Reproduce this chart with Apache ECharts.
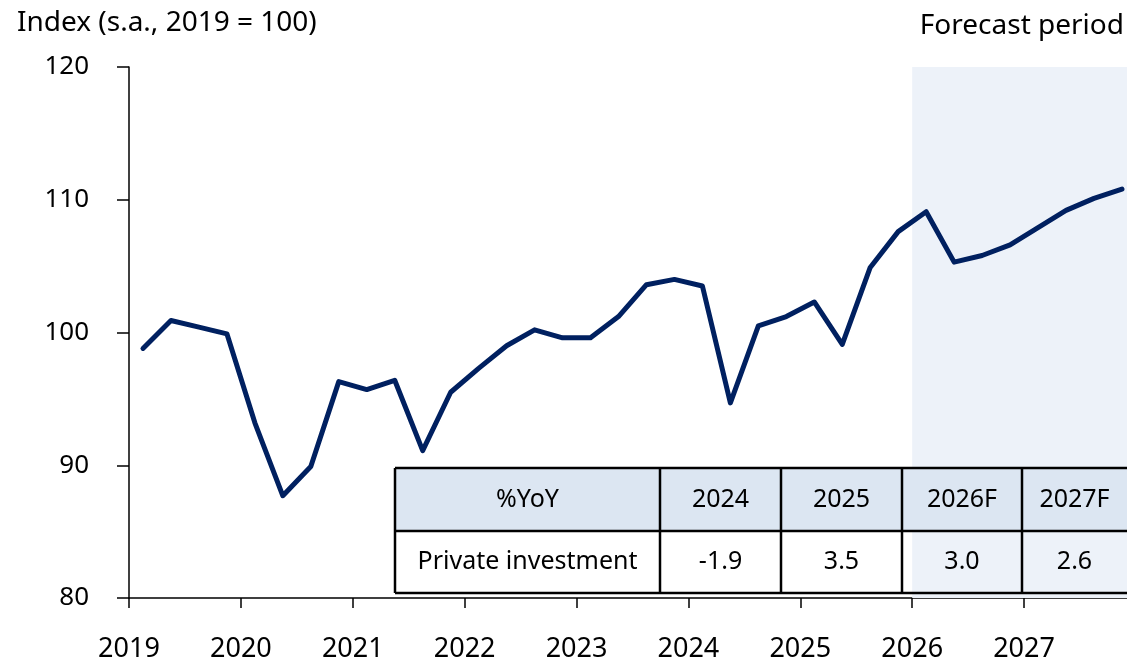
<!DOCTYPE html>
<html>
<head>
<meta charset="utf-8">
<script src="https://cdn.jsdelivr.net/npm/echarts@6/dist/echarts.min.js"></script>
<style>
  html, body { margin: 0; padding: 0; background: #fff; }
  #chart { width: 1127px; height: 663px; }
</style>
</head>
<body>
<div id="chart"></div>
<script>
// quarterly private investment index, 2019Q1 - 2027Q4
const years = [2019, 2020, 2021, 2022, 2023, 2024, 2025, 2026, 2027];
const values = [
  98.8, 100.9, 100.4, 99.9,
  93.2, 87.7, 89.9, 96.3,
  95.7, 96.4, 91.1, 95.5,
  97.3, 99.0, 100.2, 99.6,
  99.6, 101.2, 103.6, 104.0,
  103.5, 94.7, 100.5, 101.2,
  102.3, 99.1, 104.9, 107.6,
  109.1, 105.3, 105.8, 106.6,
  107.9, 109.2, 110.1, 110.8
];
const forecastStart = 2026;

// table
const tableHeader = ['%YoY', '2024', '2025', '2026F', '2027F'];
const tableRow = ['Private investment', '-1.9', '3.5', '3.0', '2.6'];

const FONT = 'Noto Sans';
const X_MAX = 2027.92;

// x position of each quarter = middle of the quarter
const lineData = values.map((v, i) => {
  const y = years[0] + Math.floor(i / 4);
  const q = i % 4;
  return [y + (q + 0.5) / 4, v];
});

const chart = echarts.init(document.getElementById('chart'));

// table graphic
const colX = [395, 660, 781, 902, 1022, 1127];
const rowY = [468, 531, 593];
const tableEls = [];
tableEls.push({
  type: 'rect', shape: { x: colX[0], y: rowY[0], width: colX[5] - colX[0], height: rowY[1] - rowY[0] },
  style: { fill: '#dce6f2' }, z: 10
});
for (let c = 0; c < 5; c++) {
  const cx = (colX[c] + colX[c + 1]) / 2;
  tableEls.push({
    type: 'text', z: 12,
    style: { text: tableHeader[c], x: cx, y: (rowY[0] + rowY[1]) / 2,
      align: 'center', verticalAlign: 'middle', font: '25px "' + FONT + '"', fill: '#000' }
  });
  tableEls.push({
    type: 'text', z: 12,
    style: { text: tableRow[c], x: cx, y: (rowY[1] + rowY[2]) / 2,
      align: 'center', verticalAlign: 'middle', font: '25px "' + FONT + '"', fill: '#000' }
  });
}
rowY.forEach(y => {
  tableEls.push({ type: 'line', z: 11, shape: { x1: colX[0], y1: y, x2: 1127, y2: y }, style: { stroke: '#000', lineWidth: 2.5 } });
});
colX.slice(0, 5).forEach(x => {
  tableEls.push({ type: 'line', z: 11, shape: { x1: x, y1: rowY[0], x2: x, y2: rowY[2] }, style: { stroke: '#000', lineWidth: 2.5 } });
});

chart.setOption({
  animation: false,
  textStyle: { fontFamily: FONT },
  title: {
    text: 'Index (s.a., 2019 = 100)',
    left: 12, top: 4,
    textStyle: { fontSize: 28, fontWeight: 'normal', color: '#000', fontFamily: FONT }
  },
  grid: { left: 129, right: 0, top: 67, bottom: 62, containLabel: false },
  xAxis: {
    type: 'value',
    min: 2019, max: X_MAX, interval: 1,
    axisLine: { show: true, lineStyle: { color: '#000', width: 1.5 } },
    axisTick: { show: true, length: 10, customValues: years, lineStyle: { color: '#000', width: 1.5 } },
    splitLine: { show: false },
    axisLabel: {
      margin: 38, fontSize: 27, color: '#000', fontFamily: FONT,
      customValues: years,
      formatter: v => String(v)
    }
  },
  yAxis: {
    type: 'value',
    min: 80, max: 120, interval: 10,
    axisLine: { show: true, lineStyle: { color: '#000', width: 1.5 } },
    axisTick: { show: true, length: 12, lineStyle: { color: '#000', width: 1.5 } },
    splitLine: { show: false },
    axisLabel: { margin: 40, fontSize: 26, color: '#000', fontFamily: FONT }
  },
  graphic: [
    {
      type: 'text', right: 3, top: 12, z: 5,
      style: { text: 'Forecast period', font: '28px "' + FONT + '"', fill: '#000' }
    },
    { type: 'group', children: tableEls }
  ],
  series: [{
    type: 'line',
    data: lineData,
    showSymbol: false,
    lineStyle: { color: '#002060', width: 5, cap: 'round', join: 'round' },
    markArea: {
      silent: true,
      itemStyle: { color: '#edf2f9' },
      data: [[{ xAxis: forecastStart }, { xAxis: X_MAX }]]
    },
    z: 3
  }]
});
</script>
</body>
</html>
